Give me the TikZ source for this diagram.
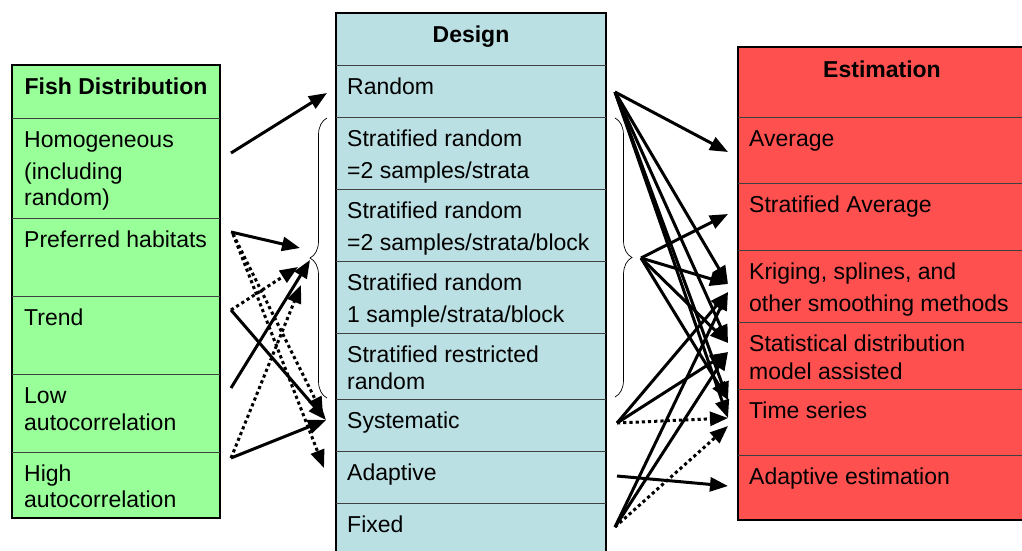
\documentclass[tikz,border=0pt]{standalone}
\usepackage{fontspec}
\setmainfont{Liberation Sans}
\usetikzlibrary{arrows.meta,decorations.pathreplacing}
\definecolor{fishgreen}{HTML}{99FF99}
\definecolor{designblue}{HTML}{BBE0E3}
\definecolor{estred}{HTML}{FF5050}

\begin{document}
\begin{tikzpicture}[x=1pt,y=-1pt,
    every node/.style={inner sep=0pt,anchor=north west,align=left,font=\fontsize{23}{32}\selectfont},
    head/.style={anchor=north,font=\fontsize{23}{32}\selectfont\bfseries},
    frame/.style={line width=2.5pt},
    rowline/.style={line width=0.8pt,black!75},
    link/.style={line width=3pt,-{Triangle[length=18pt,width=14pt]}},
    dots/.style={link,dash pattern=on 3.2pt off 3pt},
    curly/.style={decorate,decoration={brace,amplitude=17pt},line width=0.7pt}]
  \useasboundingbox (0,0) rectangle (1022,550);

  % Boxes
  \filldraw[fill=fishgreen,frame] (12,65) rectangle (220,518);
  \foreach \y in {118,218,296,374,452} \draw[rowline] (12,\y) -- (220,\y);
  \filldraw[fill=designblue,frame] (336,13) rectangle (606,565);
  \foreach \y in {65,117,189,261,333,399,451,503} \draw[rowline] (336,\y) -- (606,\y);
  \filldraw[fill=estred,frame] (738,47) rectangle (1035,520);
  \foreach \y in {117,183,250,322,389,455} \draw[rowline] (738,\y) -- (1035,\y);

  % Fish distribution
  \node[head] (F0) at (116,78) {Fish Distribution};
  \node (F1) at (24,131) {Homogeneous\\(including\\[-6pt]random)};
  \node (F2) at (24,231) {Preferred habitats};
  \node (F3) at (24,309) {Trend};
  \node (F4) at (24,387) {Low\\[-5pt]autocorrelation};
  \node (F5) at (24,465) {High\\[-6pt]autocorrelation};

  % Design
  \node[head] (D0) at (471,26) {Design};
  \node (D1) at (347,78) {Random};
  \node (D2) at (347,130) {Stratified random\\=2 samples/strata};
  \node (D3) at (347,202) {Stratified random\\=2 samples/strata/block};
  \node (D4) at (347,274) {Stratified random\\1 sample/strata/block};
  \node (D5) at (347,346) {Stratified restricted\\[-5pt]random};
  \node (D6) at (347,412) {Systematic};
  \node (D7) at (347,464) {Adaptive};
  \node (D8) at (347,516) {Fixed};

  % Estimation
  \node[head] (E0) at (882,61) {Estimation};
  \node (E1) at (749,130) {Average};
  \node (E2) at (749,196) {Stratified Average};
  \node (E3) at (749,263) {Kriging, splines, and\\other smoothing methods};
  \node (E4) at (749,335) {Statistical distribution\\[-4pt]model assisted};
  \node (E5) at (749,402) {Time series};
  \node (E6) at (749,468) {Adaptive estimation};

  % Braces
  \draw[curly] (327,398) -- (327,118);
  \draw[curly] (615,118) -- (615,397);

  % Arrow ends
  \coordinate (h1) at (231,153);
  \coordinate (p1) at (231,232);
  \coordinate (p2) at (233,234);
  \coordinate (t1) at (231,310);
  \coordinate (l1) at (231,388);
  \coordinate (a1) at (231,458);
  \coordinate (rIn) at (327,93);
  \coordinate (bA) at (300,248);
  \coordinate (bB) at (310,260);
  \coordinate (bC) at (298,267);
  \coordinate (bD) at (301,285);
  \coordinate (sIn) at (326,420);
  \coordinate (sIn2) at (323,415);
  \coordinate (adIn) at (324,468);

  \coordinate (rOut) at (615,92);
  \coordinate (bOut) at (641,258);
  \coordinate (sOut) at (617,423);
  \coordinate (adOut) at (617,476);
  \coordinate (fOut) at (615,527);
  \coordinate (avg) at (728,152);
  \coordinate (savg) at (728,214);
  \coordinate (krg) at (728,284);
  \coordinate (krg2) at (728,292);
  \coordinate (sta) at (728,343);
  \coordinate (sta2) at (728,352);
  \coordinate (tim) at (728,400);
  \coordinate (tim2) at (728,418);
  \coordinate (tim3) at (728,426);
  \coordinate (ade) at (728,486);

  % Distribution to design
  \draw [link] (h1) to (rIn);
  \draw [link] (p1) to (bA);
  \draw [dots] (p2) to (sIn2);
  \draw [dots] (p2) to (adIn);
  \draw [link] (t1) to (sIn);
  \draw [dots] (t1) to (bC);
  \draw [link] (l1) to (bB);
  \draw [link] (a1) to (sIn);
  \draw [dots] (a1) to (bD);

  % Design to estimation
  \draw [link] (rOut) to (avg);
  \draw [link] (rOut) to (krg);
  \draw [link] (rOut) to (sta);
  \draw [link] (rOut) to (tim);
  \draw [link] (rOut) to (tim2);
  \draw [link] (bOut) to (savg);
  \draw [link] (bOut) to (krg);
  \draw [link] (bOut) to (sta);
  \draw [link] (bOut) to (tim);
  \draw [link] (sOut) to (krg2);
  \draw [link] (sOut) to (sta2);
  \draw [dots] (sOut) to (tim2);
  \draw [link] (adOut) to (ade);
  \draw [link] (fOut) to (krg2);
  \draw [link] (fOut) to (sta2);
  \draw [dots] (fOut) to (tim3);

\end{tikzpicture}
\end{document}
